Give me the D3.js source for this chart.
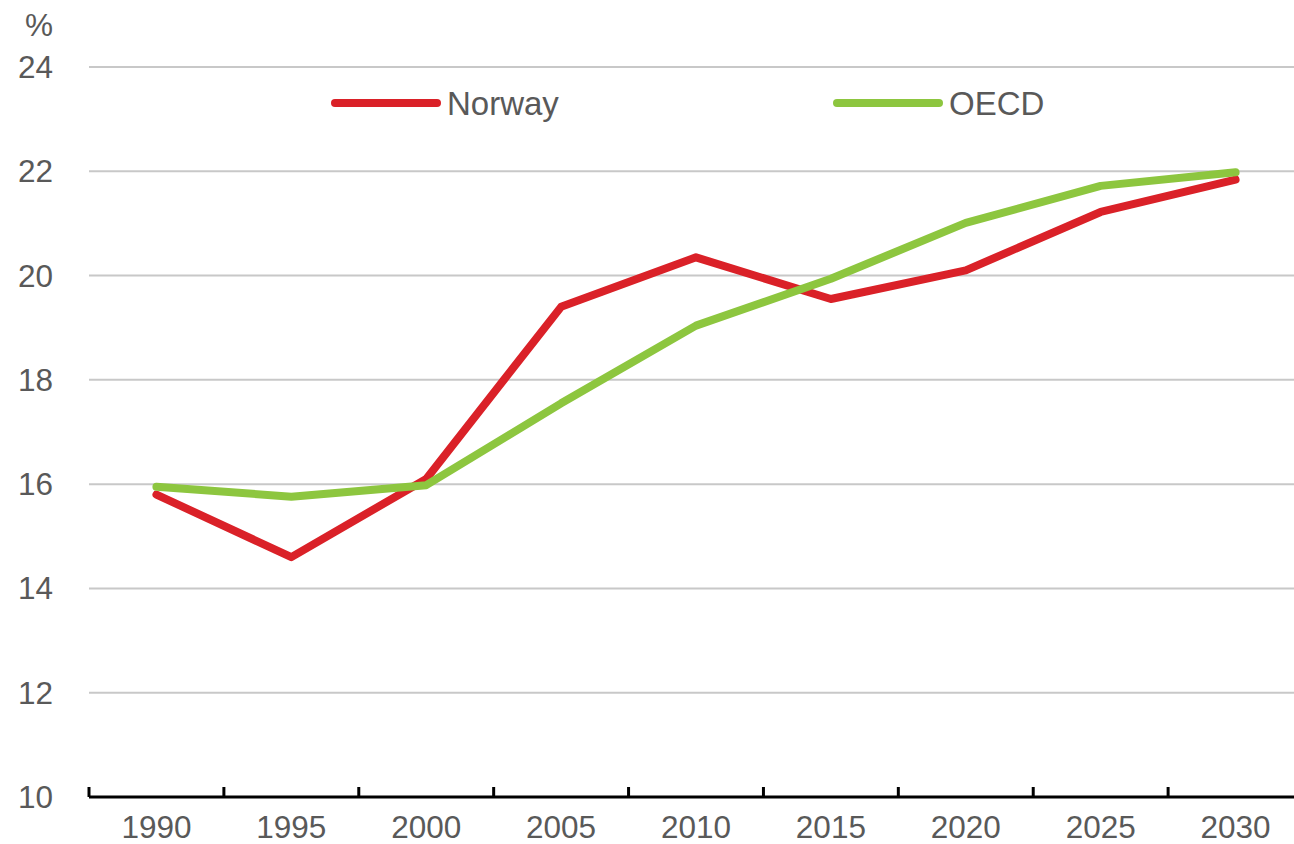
<!DOCTYPE html>
<html>
<head>
<meta charset="utf-8">
<script src="https://cdn.jsdelivr.net/npm/d3@7"></script>
<style>
  body { margin: 0; background: #fff; }
  svg text { font-family: "Liberation Sans", Arial, sans-serif; fill: #595959; }
</style>
</head>
<body>
<svg id="chart" width="1294" height="844"></svg>
<script>
const years = ["1990", "1995", "2000", "2005", "2010", "2015", "2020", "2025", "2030"];
const norway = [15.8, 14.6, 16.1, 19.4, 20.35, 19.55, 20.1, 21.22, 21.84];
const oecd = [15.95, 15.76, 15.98, 17.55, 19.04, 19.94, 21.01, 21.72, 21.98];
const yTicks = [10, 12, 14, 16, 18, 20, 22, 24];

const width = 1294, height = 844;
const margin = {top: 67, right: -9, bottom: 47, left: 89};
const fontSize = 31.5;

const svg = d3.select("#chart");

const x = d3.scaleBand()
    .domain(years)
    .range([margin.left, width - margin.right]);
const y = d3.scaleLinear()
    .domain([10, 24])
    .range([height - margin.bottom, margin.top]);

// gridlines
svg.append("g")
    .selectAll("line")
    .data(yTicks.filter(d => d > 10))
    .join("line")
    .attr("x1", margin.left)
    .attr("x2", width)
    .attr("y1", d => y(d))
    .attr("y2", d => y(d))
    .attr("stroke", "#c8c8c8")
    .attr("stroke-width", 2);

// y labels
svg.append("g")
    .selectAll("text")
    .data(yTicks)
    .join("text")
    .attr("x", 53)
    .attr("y", d => y(d))
    .attr("dy", "0.35em")
    .attr("text-anchor", "end")
    .attr("font-size", fontSize)
    .text(d => d);

svg.append("text")
    .attr("x", 53)
    .attr("y", 36)
    .attr("text-anchor", "end")
    .attr("font-size", fontSize)
    .text("%");

// x axis
const xAxis = g =>
    g.attr("transform", `translate(0,${y(10)})`)
    .call(g => g.append("line")
        .attr("x1", margin.left).attr("x2", width)
        .attr("stroke", "#000").attr("stroke-width", 3))
    .call(g => g.selectAll(".tick")
        .data(years)
        .join("line")
        .attr("class", "tick")
        .attr("x1", d => x(d)).attr("x2", d => x(d))
        .attr("y1", -10).attr("y2", 0)
        .attr("stroke", "#000").attr("stroke-width", 3))
    .call(g => g.selectAll("text")
        .data(years)
        .join("text")
        .attr("x", d => x(d) + x.bandwidth() / 2)
        .attr("y", 41)
        .attr("text-anchor", "middle")
        .attr("font-size", fontSize)
        .text(d => d));

svg.append("g").call(xAxis);

const line = d3.line()
    .x((d, i) => x(years[i]) + x.bandwidth() / 2)
    .y(d => y(d));

const series = [
    {name: "Norway", values: norway, color: "#da2128"},
    {name: "OECD", values: oecd, color: "#8dc63f"}
];

svg.append("g")
    .selectAll("path")
    .data(series)
    .join("path")
    .attr("fill", "none")
    .attr("stroke", d => d.color)
    .attr("stroke-width", 8)
    .attr("stroke-linejoin", "round")
    .attr("stroke-linecap", "round")
    .attr("d", d => line(d.values));

// legend
const legendX = [335, 837];
const legend = svg.append("g")
    .selectAll("g")
    .data(series)
    .join("g")
    .attr("transform", (d, i) => `translate(${legendX[i]},103)`);

legend.append("line")
    .attr("x1", 0).attr("x2", 102)
    .attr("stroke", d => d.color)
    .attr("stroke-width", 8)
    .attr("stroke-linecap", "round");

legend.append("text")
    .attr("x", 112)
    .attr("dy", "0.35em")
    .attr("font-size", 33)
    .text(d => d.name);
</script>
</body>
</html>
